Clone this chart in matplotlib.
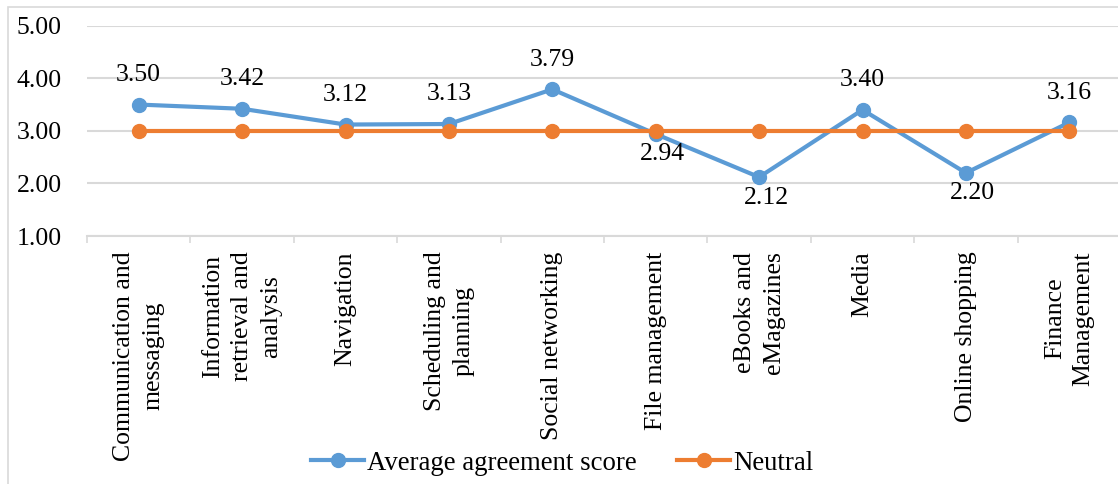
import matplotlib
matplotlib.use("Agg")
import matplotlib.pyplot as plt
from matplotlib.patches import Rectangle

categories = [
    "Communication and\nmessaging",
    "Information\nretrieval and\nanalysis",
    "Navigation",
    "Scheduling and\nplanning",
    "Social networking",
    "File management",
    "eBooks and\neMagazines",
    "Media",
    "Online shopping",
    "Finance\nManagement",
]
avg_score = [3.50, 3.42, 3.12, 3.13, 3.79, 2.94, 2.12, 3.40, 2.20, 3.16]
neutral = [3.00] * len(categories)
y_ticks = [1.00, 2.00, 3.00, 4.00, 5.00]

BLUE = "#5B9BD5"
ORANGE = "#ED7D31"
GRID = "#D9D9D9"
FS = 18.5

plt.rcParams["font.family"] = ["Liberation Serif", "DejaVu Serif"]

W, H = 1118, 484
fig = plt.figure(figsize=(W / 100, H / 100), dpi=100)

# outer chart border
fig.patches.append(Rectangle((8 / W, -0.1), 1.2, 1.1 - 7 / H, transform=fig.transFigure,
                             fill=False, edgecolor=GRID, linewidth=1.2))

left, right = 87 / W, 1121 / W
bottom, top = (H - 236) / H, (H - 25.7) / H
ax = fig.add_axes([left, bottom, right - left, top - bottom])

x = list(range(len(categories)))
ax.plot(x, avg_score, color=BLUE, linewidth=3, marker="o", markersize=10,
        label="Average agreement score", zorder=3, clip_on=False)
ax.plot(x, neutral, color=ORANGE, linewidth=3, marker="o", markersize=10,
        label="Neutral", zorder=4, clip_on=False)

for xi, v in zip(x, avg_score):
    if v >= 3:
        ax.annotate(f"{v:.2f}", (xi, v), xytext=(0, 17), textcoords="offset points",
                    ha="center", va="baseline", fontsize=FS)
    else:
        ax.annotate(f"{v:.2f}", (xi, v), xytext=(5, -19), textcoords="offset points",
                    ha="center", va="baseline", fontsize=FS)

ax.set_xlim(-0.5, len(categories) - 0.5)
ax.set_ylim(1, 5)
ax.set_yticks(y_ticks)
ax.set_yticklabels([f"{t:.2f}" for t in y_ticks], fontsize=FS)
ax.grid(axis="y", color=GRID, linewidth=1.5)
ax.set_axisbelow(True)

ax.set_xticks(x)
ax.set_xticklabels(categories, rotation=90, fontsize=FS, va="top", ha="center",
                   multialignment="center", linespacing=1.4)
ax.set_xticks([i - 0.5 for i in range(len(categories) + 1)], minor=True)
ax.tick_params(axis="x", which="major", length=0, pad=11)
ax.tick_params(axis="x", which="minor", length=5, color=GRID, width=1.2)
ax.tick_params(axis="y", length=0, pad=18)

for side in ("top", "right", "left"):
    ax.spines[side].set_visible(False)
ax.spines["bottom"].set_color(GRID)
ax.spines["bottom"].set_linewidth(1.5)
ax.spines["bottom"].set_zorder(0)

fig.legend(loc="center", bbox_to_anchor=(562 / W, (H - 463) / H), ncol=2,
           frameon=False, fontsize=19.3, handlelength=2.0, handletextpad=0.1,
           columnspacing=1.5, borderpad=0)

fig.savefig("out.png", dpi=100)
